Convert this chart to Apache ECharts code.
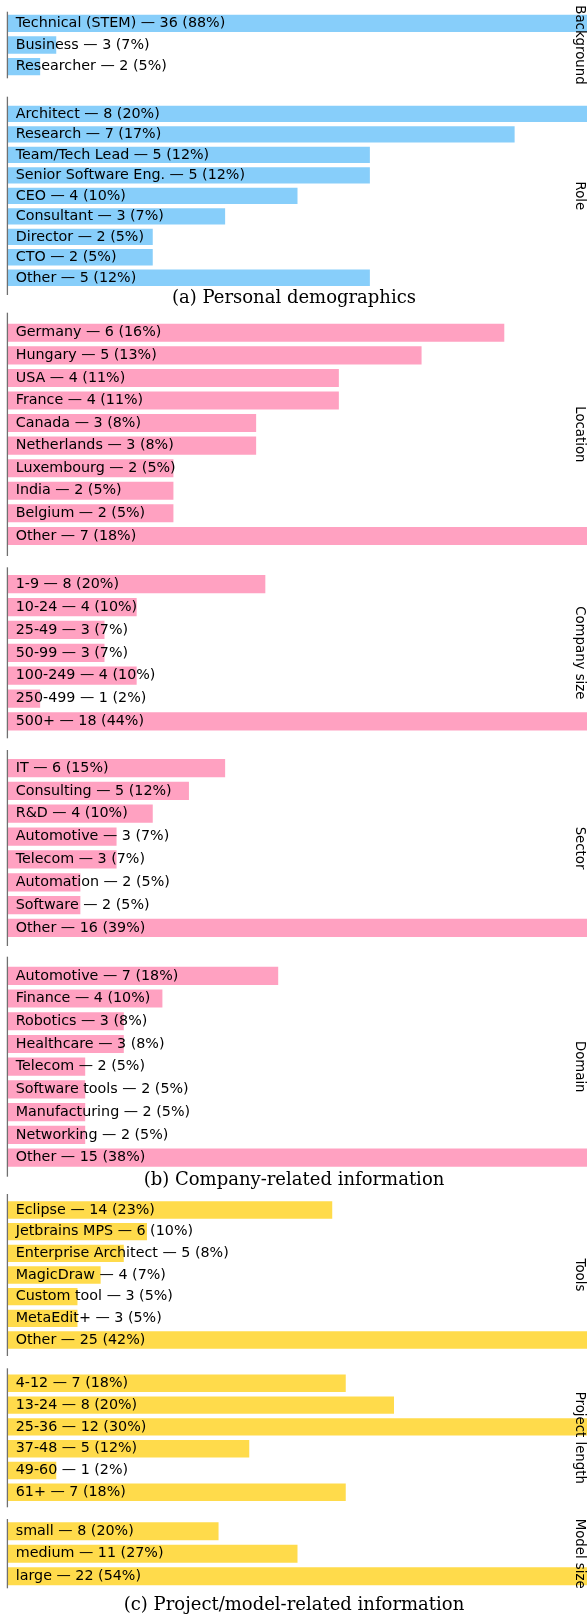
<!DOCTYPE html>
<html>
<head>
<meta charset="utf-8">
<script src="https://cdn.jsdelivr.net/npm/echarts@6/dist/echarts.min.js"></script>
<style>
  html, body { margin: 0; padding: 0; background: #fff; }
  #chart { width: 587px; height: 1616px; }
</style>
</head>
<body>
<div id="chart"></div>
<script>
// ---- data ----
const backgroundNames = ["Technical (STEM)", "Business", "Researcher"];
const backgroundCounts = [36, 3, 2];
const backgroundPct = [88, 7, 5];

const roleNames = ["Architect", "Research", "Team/Tech Lead", "Senior Software Eng.", "CEO", "Consultant", "Director", "CTO", "Other"];
const roleCounts = [8, 7, 5, 5, 4, 3, 2, 2, 5];
const rolePct = [20, 17, 12, 12, 10, 7, 5, 5, 12];

const locationNames = ["Germany", "Hungary", "USA", "France", "Canada", "Netherlands", "Luxembourg", "India", "Belgium", "Other"];
const locationCounts = [6, 5, 4, 4, 3, 3, 2, 2, 2, 7];
const locationPct = [16, 13, 11, 11, 8, 8, 5, 5, 5, 18];

const sizeNames = ["1-9", "10-24", "25-49", "50-99", "100-249", "250-499", "500+"];
const sizeCounts = [8, 4, 3, 3, 4, 1, 18];
const sizePct = [20, 10, 7, 7, 10, 2, 44];

const sectorNames = ["IT", "Consulting", "R&D", "Automotive", "Telecom", "Automation", "Software", "Other"];
const sectorCounts = [6, 5, 4, 3, 3, 2, 2, 16];
const sectorPct = [15, 12, 10, 7, 7, 5, 5, 39];

const domainNames = ["Automotive", "Finance", "Robotics", "Healthcare", "Telecom", "Software tools", "Manufacturing", "Networking", "Other"];
const domainCounts = [7, 4, 3, 3, 2, 2, 2, 2, 15];
const domainPct = [18, 10, 8, 8, 5, 5, 5, 5, 38];

const toolNames = ["Eclipse", "Jetbrains MPS", "Enterprise Architect", "MagicDraw", "Custom tool", "MetaEdit+", "Other"];
const toolCounts = [14, 6, 5, 4, 3, 3, 25];
const toolPct = [23, 10, 8, 7, 5, 5, 42];

const lengthNames = ["4-12", "13-24", "25-36", "37-48", "49-60", "61+"];
const lengthCounts = [7, 8, 12, 5, 1, 7];
const lengthPct = [18, 20, 30, 12, 2, 18];

const modelNames = ["small", "medium", "large"];
const modelCounts = [8, 11, 22];
const modelPct = [20, 27, 54];

const captions = ["(a) Personal demographics", "(b) Company-related information", "(c) Project/model-related information"];

// ---- layout ----
const BLUE = "#87cefa", PINK = "#ffa1c1", YELLOW = "#ffdb4b";
const LEFT = 8, RIGHT = 587;
const panels = [
  { label: "Background", names: backgroundNames, counts: backgroundCounts, pct: backgroundPct, color: BLUE, top: 11.7, bottom: 78.3 },
  { label: "Role", names: roleNames, counts: roleCounts, pct: rolePct, color: BLUE, top: 96.7, bottom: 295 },
  { label: "Location", names: locationNames, counts: locationCounts, pct: locationPct, color: PINK, top: 312.7, bottom: 556 },
  { label: "Company size", names: sizeNames, counts: sizeCounts, pct: sizePct, color: PINK, top: 567.3, bottom: 738.3 },
  { label: "Sector", names: sectorNames, counts: sectorCounts, pct: sectorPct, color: PINK, top: 750, bottom: 946 },
  { label: "Domain", names: domainNames, counts: domainCounts, pct: domainPct, color: PINK, top: 956.7, bottom: 1176.7 },
  { label: "Tools", names: toolNames, counts: toolCounts, pct: toolPct, color: YELLOW, top: 1194, bottom: 1356 },
  { label: "Project length", names: lengthNames, counts: lengthCounts, pct: lengthPct, color: YELLOW, top: 1368.3, bottom: 1507.3 },
  { label: "Model size", names: modelNames, counts: modelCounts, pct: modelPct, color: YELLOW, top: 1519, bottom: 1588.3 }
];
const captionY = [298, 1180, 1605];

const grid = [], xAxis = [], yAxis = [], series = [], graphic = [];

panels.forEach(function (pn, i) {
  const n = pn.names.length;
  // matplotlib-like: bars of height 0.8 and 5% margins
  const units = (n - 0.2) * 1.1;
  const pitch = (pn.bottom - pn.top) / units;
  const firstCenter = pn.top + (0.4 + 0.05 * (n - 0.2)) * pitch;
  grid.push({
    left: LEFT, width: RIGHT - LEFT,
    top: firstCenter - pitch / 2, height: n * pitch,
    outerBoundsMode: "none"
  });
  xAxis.push({ gridIndex: i, type: "value", min: 0, max: Math.max.apply(null, pn.counts), show: false });
  yAxis.push({ gridIndex: i, type: "category", data: pn.names, inverse: true, show: false });
  series.push({
    type: "bar",
    xAxisIndex: i, yAxisIndex: i,
    data: pn.counts,
    barWidth: 0.8 * pitch,
    itemStyle: { color: pn.color },
    label: {
      show: true,
      position: "insideLeft",
      distance: 7.7,
      color: "#000",
      fontFamily: "DejaVu Sans",
      fontSize: 14.3,
      formatter: function (p) {
        return pn.names[p.dataIndex] + " \u2014 " + pn.counts[p.dataIndex] + " (" + pn.pct[p.dataIndex] + "%)";
      }
    }
  });
  // left spine
  graphic.push({
    type: "line", z: 50,
    shape: { x1: 7.4, y1: pn.top, x2: 7.4, y2: pn.bottom },
    style: { stroke: "#707070", lineWidth: 1.3 }
  });
  // rotated side label
  graphic.push({
    type: "text", z: 60,
    x: 579, y: (pn.top + pn.bottom) / 2,
    rotation: -Math.PI / 2,
    style: { text: pn.label, font: "13.3px 'DejaVu Sans'", fill: "#000", align: "center", verticalAlign: "middle" }
  });
});

captions.forEach(function (c, i) {
  graphic.push({
    type: "text", z: 60,
    x: 294, y: captionY[i],
    style: { text: c, font: "18px 'DejaVu Serif'", fill: "#000", align: "center", verticalAlign: "middle" }
  });
});

const myChart = echarts.init(document.getElementById("chart"), null, { renderer: "canvas" });
myChart.setOption({
  animation: false,
  backgroundColor: "#fff",
  grid: grid,
  xAxis: xAxis,
  yAxis: yAxis,
  series: series,
  graphic: graphic
});
</script>
</body>
</html>
